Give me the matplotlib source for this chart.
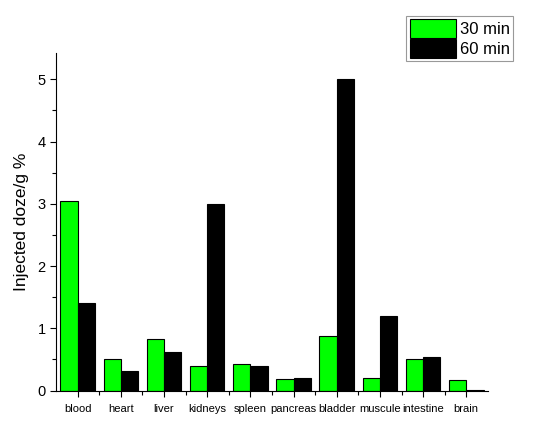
import numpy as np
import matplotlib.pyplot as plt
from matplotlib.ticker import MultipleLocator, FixedLocator

organs = ['blood', 'heart', 'liver', 'kidneys', 'spleen', 'pancreas',
          'bladder', 'muscule', 'intestine', 'brain']
dose_30 = [3.05, 0.50, 0.83, 0.39, 0.42, 0.18, 0.87, 0.20, 0.51, 0.17]
dose_60 = [1.40, 0.31, 0.62, 3.00, 0.40, 0.20, 5.00, 1.20, 0.54, 0.01]

plt.rcParams['font.family'] = ['Liberation Sans', 'DejaVu Sans']

fig = plt.figure(figsize=(5.5, 4.25), dpi=100)
ax = fig.add_axes([0.102, 0.081, 0.785, 0.794])

x = np.arange(1, len(organs) + 1)
w = 0.4
b1 = ax.bar(x - w / 2, dose_30, w, color='#00ff00', edgecolor='black', linewidth=0.8, label='30 min')
b2 = ax.bar(x + w / 2, dose_60, w, color='black', edgecolor='black', linewidth=0.8, label='60 min')

ax.set_xlim(0.5, 10.5)
ax.set_ylim(0, 5.42)
ax.set_xticks(x)
ax.set_xticklabels(organs)
ax.xaxis.set_minor_locator(FixedLocator(np.arange(1.5, 10.5, 1)))
ax.yaxis.set_major_locator(MultipleLocator(1))
ax.yaxis.set_minor_locator(MultipleLocator(0.5))
ax.tick_params(axis='both', which='major', direction='out', length=4, width=0.8, labelsize=10.5)
ax.tick_params(axis='x', which='major', labelsize=8, pad=6)
ax.tick_params(axis='both', which='minor', direction='out', length=3, width=0.8)
ax.spines['top'].set_visible(False)
ax.spines['right'].set_visible(False)
ax.set_ylabel('Injected doze/g %', fontsize=12.5, labelpad=6)

leg = fig.legend(handles=[b1, b2], loc='upper right', bbox_to_anchor=(0.933, 0.963),
                 fontsize=12, frameon=True, fancybox=False, edgecolor='gray',
                 handlelength=2.75, handleheight=1.35, handletextpad=0.25,
                 borderpad=0.2, labelspacing=0.1, borderaxespad=0)
leg.get_frame().set_linewidth(0.8)

plt.savefig('out.png', dpi=100)
